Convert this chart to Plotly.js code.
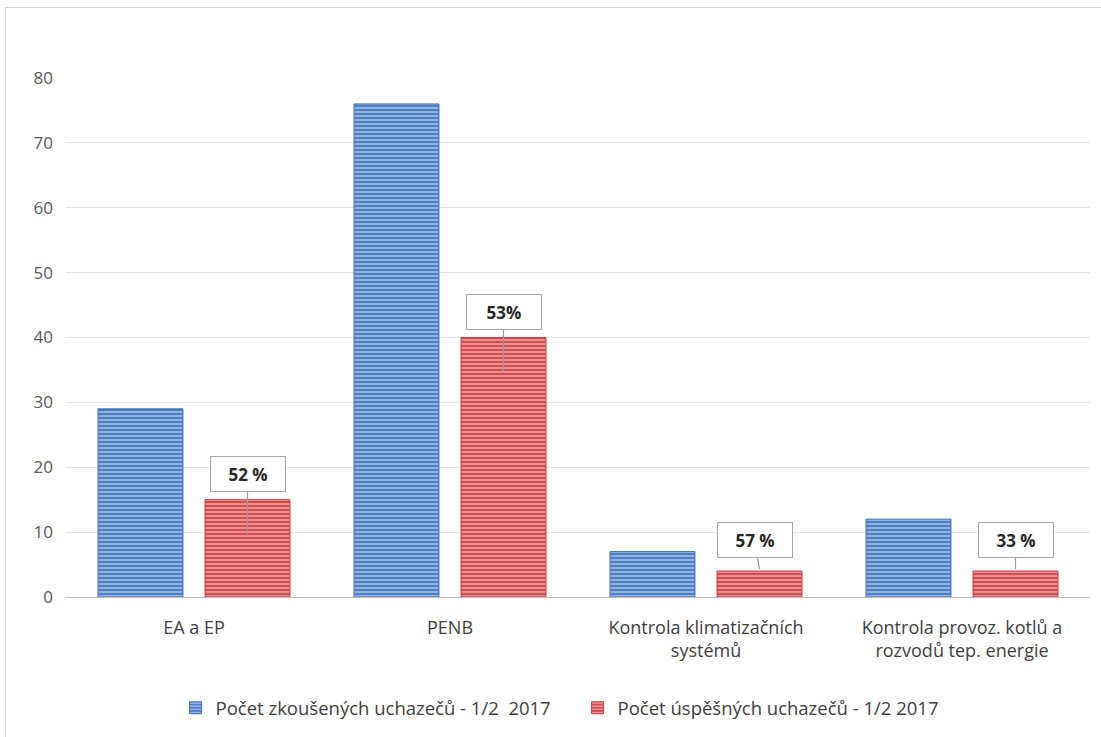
<!DOCTYPE html>
<html>
<head>
<meta charset="utf-8">
<script src="https://cdn.plot.ly/plotly-3.0.1.min.js"></script>
<style>
html,body{margin:0;padding:0;background:#fff;}
#chart{width:1101px;height:737px;}
#frame{position:absolute;left:5px;top:7px;width:1110px;height:740px;border:1px solid #d4d4d4;pointer-events:none;}
</style>
</head>
<body>
<div id="chart"></div>
<div id="frame"></div>
<script>
const categories = ["EA a EP", "PENB", "Kontrola klimatizačních<br>systémů", "Kontrola provoz. kotlů a<br>rozvodů tep. energie"];
const testedName = "Počet zkoušených uchazečů - 1/2  2017";
const passedName = "Počet úspěšných uchazečů - 1/2 2017";
const tested = [29, 76, 7, 12];
const passed = [15, 40, 4, 4];
const pctLabels = ["52 %", "53%", "57 %", "33 %"];
const calloutTip = [9.7, 34.8, 4.3, 4.3];
const calloutOffX = [0, 0, -5, 0];
const calloutOffY = [-60, -59, -29, -29];

const FONT = "'Open Sans', Lato, sans-serif";

const traces = [
  {
    type: "bar", name: testedName, x: categories, y: tested,
    marker: {color: "#4a7cc3", line: {color: "#3f6db0", width: 1},
      pattern: {shape: "-", bgcolor: "#4d7fc6", fgcolor: "#c3d5ef", size: 4, solidity: 0.3, fillmode: "replace"}},
    hoverinfo: "x+y"
  },
  {
    type: "bar", name: passedName, x: categories, y: passed,
    marker: {color: "#d5484c", line: {color: "#c43e42", width: 1},
      pattern: {shape: "-", bgcolor: "#d74c50", fgcolor: "#f5c0c0", size: 4, solidity: 0.3, fillmode: "replace"}},
    hoverinfo: "x+y"
  }
];

const annotations = pctLabels.map((t, i) => ({
  x: i + 0.209, y: calloutTip[i], xref: "x", yref: "y",
  text: "<b>" + t + "</b>",
  showarrow: true, arrowhead: 0, arrowwidth: 1.2, arrowcolor: "#9a9a9a",
  ax: calloutOffX[i], ay: calloutOffY[i],
  bgcolor: "#ffffff", bordercolor: "#a6a6a6", borderwidth: 1, borderpad: 6,
  width: 62, height: 22,
  font: {family: FONT, size: 17, color: "#262626"}
}));

const layout = {
  width: 1101, height: 737,
  margin: {l: 66, r: 11, t: 78, b: 139},
  paper_bgcolor: "#ffffff", plot_bgcolor: "#ffffff",
  barmode: "group", bargap: 0.164, bargroupgap: 0.206,
  font: {family: FONT, size: 16, color: "#595959"},
  xaxis: {
    type: "category", showgrid: false, ticks: "", showline: true,
    linecolor: "#bfbfbf", linewidth: 1, ticklabelstandoff: 14,
    tickfont: {family: FONT, size: 18, color: "#404040"}
  },
  yaxis: {
    range: [0, 80], dtick: 10, showgrid: true, gridcolor: "#e3e3e3", gridwidth: 1,
    zeroline: false, showline: false, ticks: "", ticklabelstandoff: 12,
    tickfont: {family: FONT, size: 17, color: "#595959"}
  },
  legend: {
    orientation: "h", x: 0.107, xanchor: "left", y: -0.212, yanchor: "middle",
    entrywidth: 357, entrywidthmode: "pixels",
    font: {family: FONT, size: 18.5, color: "#404040"}, itemwidth: 30, traceorder: "normal"
  },
  annotations: annotations,
  showlegend: true
};

Plotly.newPlot("chart", traces, layout, {displayModeBar: false, staticPlot: true});
</script>
</body>
</html>
